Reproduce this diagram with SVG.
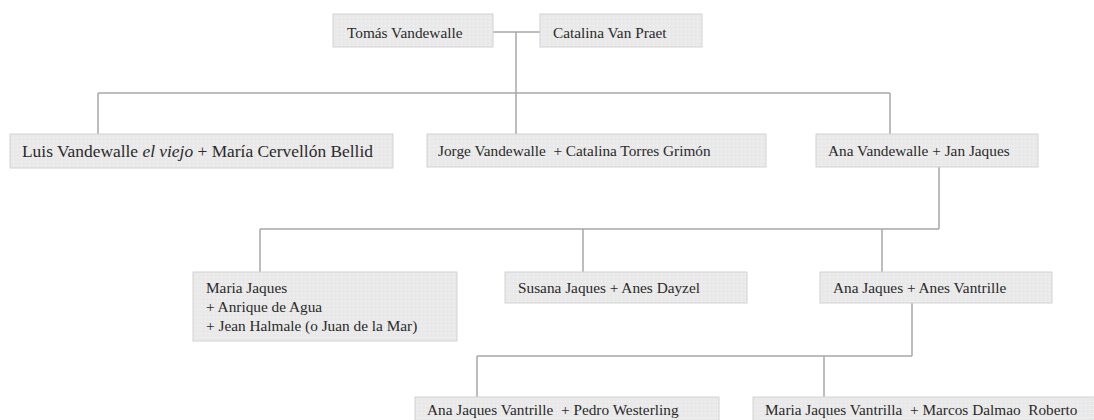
<svg xmlns="http://www.w3.org/2000/svg" width="1094" height="420" viewBox="0 0 1094 420">
<style>
.box{fill:url(#dots);stroke:#d2d2d2;stroke-width:1}
.t{font-family:"Liberation Serif","Times New Roman",serif;font-size:15.3px;fill:#2a2a2a}
.big{font-size:17.4px}
.ln{stroke:#a8a8a8;stroke-width:1.5;fill:none}
</style>
<defs>
<pattern id="dots" width="4" height="4" patternUnits="userSpaceOnUse">
<rect width="4" height="4" fill="#e9e9e9"/>
<rect x="1" y="1" width="1" height="1" fill="#f7f7f7"/>
</pattern>
</defs>
<g id="connectors">
<path class="ln" d="M493 32H540M516 32V93M98 93H890M98 93V134M516 93V134M890 93V134"/>
<path class="ln" d="M939 167V229M260 229H939M260 229V272M583 229V272M882 229V272"/>
<path class="ln" d="M912 303V356M477 356H912M477 356V397M824 356V397"/>
</g>
<g id="n-tomas"><rect class="box" x="333" y="14" width="160" height="33"/><text class="t" x="347" y="38">Tomás Vandewalle</text></g>
<g id="n-catalina"><rect class="box" x="540" y="14" width="162" height="33"/><text class="t" x="553" y="38">Catalina Van Praet</text></g>
<g id="n-luis"><rect class="box" x="10" y="134" width="383" height="34"/><text class="t big" x="22" y="157">Luis Vandewalle <tspan font-style="italic">el viejo</tspan> + María Cervellón Bellid</text></g>
<g id="n-jorge"><rect class="box" x="427" y="134" width="339" height="33"/><text class="t" x="438" y="156" xml:space="preserve">Jorge Vandewalle  + Catalina Torres Grimón</text></g>
<g id="n-ana"><rect class="box" x="816" y="134" width="222" height="33"/><text class="t" x="828" y="156">Ana Vandewalle + Jan Jaques</text></g>
<g id="n-maria"><rect class="box" x="193" y="272" width="264" height="69"/><text class="t" x="206" y="293">Maria Jaques</text><text class="t" x="206" y="312">+ Anrique de Agua</text><text class="t" x="206" y="331">+ Jean Halmale (o Juan de la Mar)</text></g>
<g id="n-susana"><rect class="box" x="505" y="272" width="242" height="31"/><text class="t" x="518" y="293">Susana Jaques + Anes Dayzel</text></g>
<g id="n-anajaques"><rect class="box" x="820" y="272" width="232" height="31"/><text class="t" x="833" y="293">Ana Jaques + Anes Vantrille</text></g>
<g id="n-anajv"><rect class="box" x="415" y="397" width="304" height="33"/><text class="t" x="427" y="415" xml:space="preserve">Ana Jaques Vantrille  + Pedro Westerling</text></g>
<g id="n-mariajv"><rect class="box" x="753" y="397" width="347" height="33"/><text class="t" x="765" y="415" xml:space="preserve">Maria Jaques Vantrilla  + Marcos Dalmao  Roberto</text></g>
</svg>
